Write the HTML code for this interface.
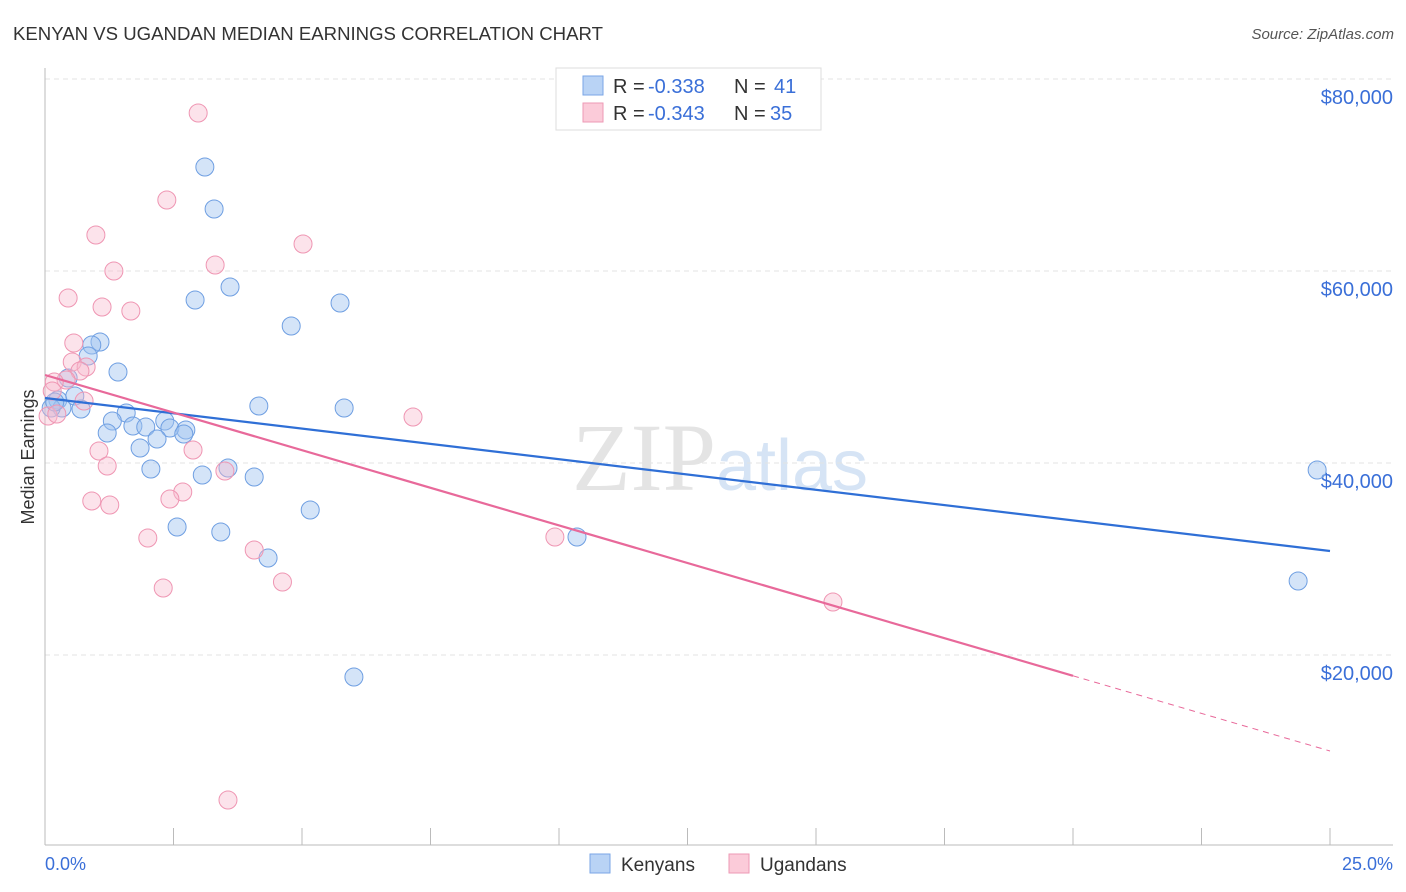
<!DOCTYPE html>
<html><head><meta charset="utf-8"><style>
body{margin:0;background:#fff;font-family:"Liberation Sans",sans-serif}
svg{display:block}
</style></head><body>
<svg id="chart" width="1406" height="892" xmlns="http://www.w3.org/2000/svg">
<text x="13" y="40" font-size="18.6" fill="#333">KENYAN VS UGANDAN MEDIAN EARNINGS CORRELATION CHART</text>
<text x="1394" y="39" font-size="15" fill="#555" text-anchor="end" font-style="italic">Source: ZipAtlas.com</text>
<text x="720" y="490" font-size="96" fill="#e4e4e4" text-anchor="middle" font-family="Liberation Serif">ZIP<tspan fill="#d6e4f5" font-family="Liberation Sans" font-size="72">atlas</tspan></text>
<g id="grid"></g>
<g id="axes"></g>
<g id="pts"></g>
<g id="trend"></g>
<text transform="translate(34,457) rotate(-90)" font-size="18" fill="#333" text-anchor="middle">Median Earnings</text>
<text x="45" y="870" font-size="18" fill="#3a6fd8">0.0%</text>
<text x="1393" y="870" font-size="18" fill="#3a6fd8" text-anchor="end">25.0%</text>
<g>
<rect x="556" y="68" width="265" height="62" fill="#fff" stroke="#ddd"/>
<rect x="583" y="76" width="20" height="19" fill="#b9d3f5" stroke="#7aa6e6"/>
<rect x="583" y="103" width="20" height="19" fill="#fbcbd9" stroke="#ee9ab5"/>
<text x="613" y="93" font-size="20" fill="#333">R =</text>
<text x="648" y="93" font-size="20" fill="#3a6fd8">-0.338</text>
<text x="734" y="93" font-size="20" fill="#333">N =</text>
<text x="774" y="93" font-size="20" fill="#3a6fd8">41</text>
<text x="613" y="120" font-size="20" fill="#333">R =</text>
<text x="648" y="120" font-size="20" fill="#3a6fd8">-0.343</text>
<text x="734" y="120" font-size="20" fill="#333">N =</text>
<text x="770" y="120" font-size="20" fill="#3a6fd8">35</text>
</g>
<g>
<rect x="590" y="854" width="20" height="19" fill="#b9d3f5" stroke="#7aa6e6"/>
<text x="621" y="871" font-size="19" fill="#333">Kenyans</text>
<rect x="729" y="854" width="20" height="19" fill="#fbcbd9" stroke="#ee9ab5"/>
<text x="760" y="871" font-size="19" fill="#333">Ugandans</text>
</g>
</svg>
<script>
const yTicks=[20000,40000,60000,80000];
const yTickLabels=["$20,000","$40,000","$60,000","$80,000"];
const kenyanX=[3.11,3.29,3.6,2.92,5.74,4.79,1.07,0.91,0.84,1.42,0.45,0.25,0.58,0.33,0.70,0.12,0.19,1.58,1.31,2.33,1.71,1.96,2.43,2.74,2.70,1.21,2.18,1.85,2.06,3.06,3.56,4.07,5.82,4.16,5.16,2.57,3.42,4.34,10.35,6.01,24.75,24.38];
const kenyanY=[70833,66458,58333,56979,56667,54271,52604,52292,51146,49479,48854,46563,46979,45729,45625,45729,46354,45208,44375,44375,43854,43750,43646,43438,43021,43125,42500,41563,39375,38750,39479,38542,45729,45938,35104,33333,32813,30104,32292,17708,39271,27708];
const ugandanX=[2.98,2.37,0.99,5.02,3.31,1.34,0.45,1.11,1.67,0.56,0.53,0.80,0.68,0.41,0.18,0.14,0.76,0.06,0.23,2.88,1.05,1.21,3.5,2.68,2.43,0.91,1.26,2.0,4.07,9.92,4.62,2.3,7.16,15.33,3.56];
const ugandanY=[76458,67396,63750,62813,60625,60000,57188,56250,55833,52500,50521,50000,49583,48646,48438,47500,46458,44896,45104,41354,41250,39688,39167,36979,36250,36042,35625,32188,30938,32292,27604,26979,44792,25521,4896];
const kenyanTrend=[46771,30833];
const ugandanTrend=[49167,10000];
const X0=45,X1=1330,Y0=847,PX_PER=192/20000;
const xs=v=>X0+(v/25)*(X1-X0);
const ys=v=>Y0-v*PX_PER;
const NS="http://www.w3.org/2000/svg";
function mk(tag,parent,attrs){const e=document.createElementNS(NS,tag);for(const k in attrs)e.setAttribute(k,attrs[k]);parent.appendChild(e);return e;}
const grid=document.getElementById('grid'),axes=document.getElementById('axes'),pts=document.getElementById('pts'),trend=document.getElementById('trend');
yTicks.forEach((t,i)=>{
 const l=mk('line',grid,{x1:45,x2:1393,y1:ys(t),y2:ys(t),stroke:'#e3e3e3','stroke-dasharray':'5,4'});
 
 
 const tx=mk('text',grid,{x:1393,y:ys(t)+25,'font-size':20,fill:'#3a6fd8','text-anchor':'end'});
 tx.textContent=yTickLabels[i];
 
 
});
const ya=mk('line',axes,{x1:45,x2:45,y1:68,y2:845,stroke:'#bbb'});


const xa=mk('line',axes,{x1:45,x2:1393,y1:845,y2:845,stroke:'#bbb'});


for(let i=0;i<=10;i++){const x=xs(i*2.5);
 const t=mk('line',axes,{x1:x,x2:x,y1:828,y2:845,stroke:'#bbb'});
 
 
}
function drawPts(X,Y,fill,stroke,name){X.forEach((x,i)=>{
 const c=mk('circle',pts,{cx:xs(x),cy:ys(Y[i]),r:9,fill:fill,stroke:stroke,'stroke-width':1});
 
 
});}
drawPts(kenyanX,kenyanY,'rgba(160,196,240,0.45)','#6f9fe2','kenyan-point');
drawPts(ugandanX,ugandanY,'rgba(248,186,206,0.4)','#ef96b3','ugandan-point');
const kt=mk('line',trend,{x1:xs(0),y1:ys(kenyanTrend[0]),x2:xs(25),y2:ys(kenyanTrend[1]),stroke:'#2f6fd6','stroke-width':2.2});


const ut=v=>ugandanTrend[0]+(ugandanTrend[1]-ugandanTrend[0])*v/25;
const us=mk('line',trend,{x1:xs(0),y1:ys(ut(0)),x2:xs(20),y2:ys(ut(20)),stroke:'#e8699a','stroke-width':2.2});


const ud=mk('line',trend,{x1:xs(20),y1:ys(ut(20)),x2:xs(25),y2:ys(ut(25)),stroke:'#e8699a','stroke-width':1,'stroke-dasharray':'6,5'});


</script>
</body></html>
